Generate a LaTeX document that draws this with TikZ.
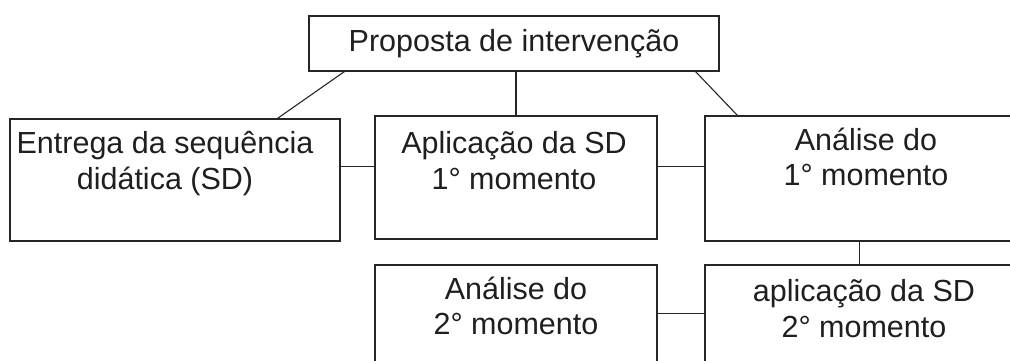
\documentclass[tikz,border=0pt]{standalone}
\usepackage{fontspec}
\setmainfont{Liberation Sans}
\usepackage{tikz}
\usetikzlibrary{positioning,calc}

\tikzset{
  box/.style={draw=black!85, line width=1.1pt, inner sep=0pt, rectangle},
  txt/.style={inner sep=0pt, align=center, text=black!88, font=\fontsize{30.5}{35.5}\selectfont},
  conn/.style={draw=black!85, line width=1.1pt}
}

\begin{document}
\begin{tikzpicture}[x=1pt,y=1pt,yscale=-1,xscale=1]
\useasboundingbox (0,0) rectangle (1010,361);
\clip (0,0) rectangle (1010,361);

%Shape: Rectangle [top]
\node [box, txt, minimum width=410pt, minimum height=55pt] (prop) at (514,43.5) {Proposta de intervenção};
%Shape: Rectangle [row 1]
\node [box, minimum width=330pt, minimum height=122pt] (entrega) at (175,180) {};
\node [box, minimum width=282pt, minimum height=123pt] (aplicA) at (516,177.5) {};
\node [box, minimum width=320pt, minimum height=125pt] (analA) at (865,178.5) {};
%Shape: Rectangle [row 2]
\node [box, minimum width=282pt, minimum height=124pt] (analB) at (516,327) {};
\node [box, minimum width=320pt, minimum height=124pt] (aplicB) at (865,327) {};

% Text Node
\node [txt] (entregaTxt) at (165,163.5) {Entrega da sequência\\didática (SD)};
% Text Node
\node [txt] (aplicATxt) at (514,160.5) {Aplicação da SD\\1° momento};
% Text Node
\node [txt] (analATxt) at (866,157) {Análise do\\1° momento};
% Text Node
\node [txt] (analBTxt) at (516,306) {Análise do\\2° momento};
% Text Node
\node [txt] (aplicBTxt) at (864,308.5) {aplicação da SD\\2° momento};

%Straight Lines [from top]
\draw [conn] ([xshift=36pt]prop.south west) -- ([xshift=268pt]entrega.north west);
\draw [conn] (aplicA.north) -- (aplicA.north |- prop.south);
\draw [conn] ([xshift=-24pt]prop.south east) -- ([xshift=33pt]analA.north west);
%Straight Lines [row 1]
\coordinate (rowA) at ($(entrega.north east)!.39!(entrega.south east)$);
\draw [conn] (rowA) -- (rowA -| aplicA.west);
\draw [conn] (aplicA.east |- rowA) -- (rowA -| analA.west);
%Straight Lines [down and row 2]
\draw [conn] ([xshift=155pt]analA.south west) -- ([xshift=155pt]aplicB.north west);
\coordinate (rowB) at ($(analB.north east)!.39!(analB.south east)$);
\draw [conn] (rowB) -- (rowB -| aplicB.west);

\end{tikzpicture}
\end{document}
